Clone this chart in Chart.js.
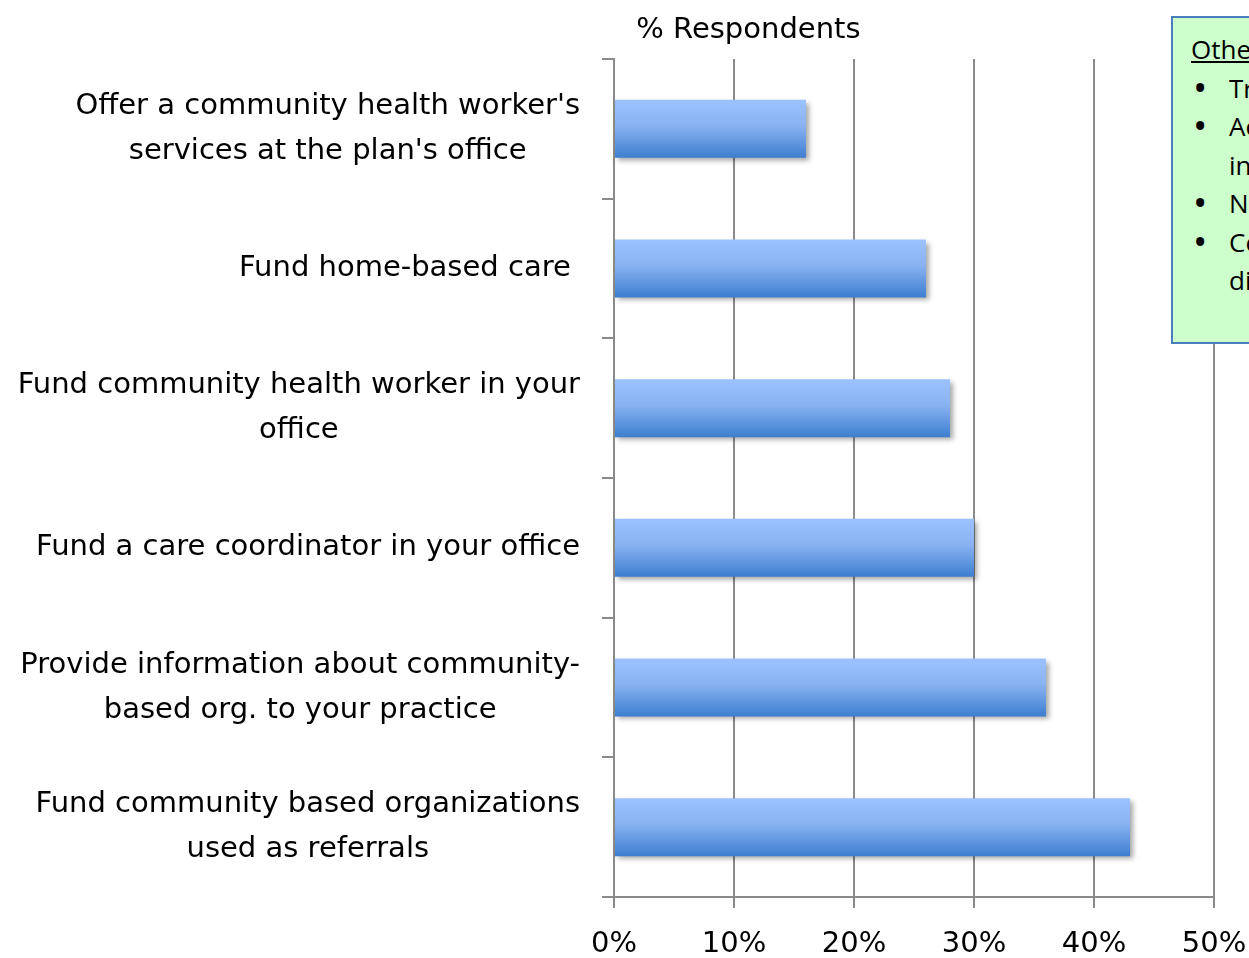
<!DOCTYPE html>
<html>
<head>
<meta charset="utf-8">
<script src="https://cdn.jsdelivr.net/npm/chart.js@4"></script>
<style>
  html, body { margin: 0; padding: 0; background: #fff; overflow: hidden; width: 1249px; height: 958px; }
  #wrap { position: relative; width: 1249px; height: 958px; }
  #note {
    position: absolute; left: 1171px; top: 16px; width: 300px; height: 324px;
    background: #ccffcc; border: 2px solid #4a7ebb; box-sizing: content-box;
    font-family: "Open Sans", "Liberation Sans", sans-serif; font-size: 26px; line-height: 38.5px;
    color: #000; white-space: nowrap;
  }
  #note .head { margin: 12px 0 0 18px; text-decoration: underline; }
  #note ul { margin: 0; padding: 0 0 0 56px; list-style: none; }
  #note li { position: relative; }
  #note li::before { content: "\2022"; position: absolute; left: -36px; top: -1px; font-size: 38px; }
</style>
</head>
<body>
<div id="wrap">
  <canvas id="chart" width="1249" height="958"></canvas>
  <div id="note">
    <div class="head">Other responses:</div>
    <ul>
      <li>Transportation</li>
      <li>Access to resources and<br>information</li>
      <li>None</li>
      <li>Coordinate care for chronic<br>disease</li>
    </ul>
  </div>
</div>
<script>
  const categories = [
    ["Offer a community health worker's", "services at the plan's office"],
    ["Fund home-based care "],
    ["Fund community health worker in your", "office"],
    ["Fund a care coordinator in your office"],
    ["Provide information about community-", "based org. to your practice"],
    ["Fund community based organizations", "used as referrals"],
  ];
  const respondents = [16, 26, 28, 30, 36, 43];
  const xTicks = [0, 10, 20, 30, 40, 50];
  const axisTitle = "% Respondents";

  const FAMILY = '"Comic Sans MS", "DejaVu Sans", sans-serif';
  const LABEL_FONT = "29px " + FAMILY;
  const GRID = "#8a8a8a";
  const BAR_PCT = 0.415;

  function barFill(context) {
    const chart = context.chart;
    const y = chart.scales.y;
    if (!chart.chartArea || !y) return "#6a9ee8";
    const center = y.getPixelForValue(context.dataIndex);
    const half = (y.height / categories.length) * BAR_PCT / 2;
    const g = chart.ctx.createLinearGradient(0, center - half, 0, center + half);
    g.addColorStop(0, "#9cc3ff");
    g.addColorStop(0.45, "#88b2f2");
    g.addColorStop(1, "#3d7ecf");
    return g;
  }

  const barShadow = {
    id: "barShadow",
    beforeDatasetsDraw(chart) {
      const ctx = chart.ctx;
      ctx.save();
      ctx.shadowColor = "rgba(0,0,0,0.35)";
      ctx.shadowBlur = 5;
      ctx.shadowOffsetX = 3;
      ctx.shadowOffsetY = 3;
    },
    afterDatasetsDraw(chart) {
      chart.ctx.restore();
    },
  };

  // category labels: block right-aligned to the axis, lines centred inside the block
  const blockLabels = {
    id: "blockLabels",
    afterDraw(chart) {
      const ctx = chart.ctx;
      const y = chart.scales.y;
      const right = y.right - 34;
      const lineH = 45;
      ctx.save();
      ctx.font = LABEL_FONT;
      ctx.fillStyle = "#000";
      ctx.textBaseline = "middle";
      ctx.textAlign = "center";
      categories.forEach((lines, i) => {
        const w = Math.max(...lines.map((l) => ctx.measureText(l).width));
        const cx = right - w / 2;
        const cy = y.getPixelForTick(i);
        lines.forEach((l, k) => {
          ctx.fillText(l, cx, cy + (k - (lines.length - 1) / 2) * lineH);
        });
      });
      ctx.font = "29px " + FAMILY;
      ctx.fillText(axisTitle, chart.scales.x.getPixelForValue(11.2), 30);
      ctx.restore();
    },
  };

  new Chart(document.getElementById("chart"), {
    type: "bar",
    data: {
      labels: categories,
      datasets: [
        {
          data: respondents,
          backgroundColor: barFill,
          borderWidth: 0,
          barPercentage: BAR_PCT,
          categoryPercentage: 1,
        },
      ],
    },
    options: {
      indexAxis: "y",
      responsive: false,
      animation: false,
      layout: { padding: { top: 59, right: 35, left: 0, bottom: 0 } },
      plugins: { legend: { display: false }, tooltip: { enabled: false } },
      scales: {
        x: {
          min: 0,
          max: 50,
          afterFit(scale) {
            scale.height = 61;
            scale.paddingRight = 0;
            scale.paddingLeft = 0;
          },
          afterBuildTicks(scale) { scale.ticks = xTicks.map((v) => ({ value: v })); },
          ticks: {
            callback: (v) => v + "%",
            color: "#000",
            padding: 19,
            font: { family: FAMILY, size: 29 },
          },
          grid: { color: GRID, lineWidth: 2, tickLength: 11 },
          border: { color: GRID, width: 2 },
        },
        y: {
          afterFit(scale) { scale.width = 614; },
          ticks: { display: false },
          grid: { color: GRID, lineWidth: 2, drawOnChartArea: false, tickLength: 12 },
          border: { color: GRID, width: 2 },
        },
      },
    },
    plugins: [barShadow, blockLabels],
  });
</script>
</body>
</html>
